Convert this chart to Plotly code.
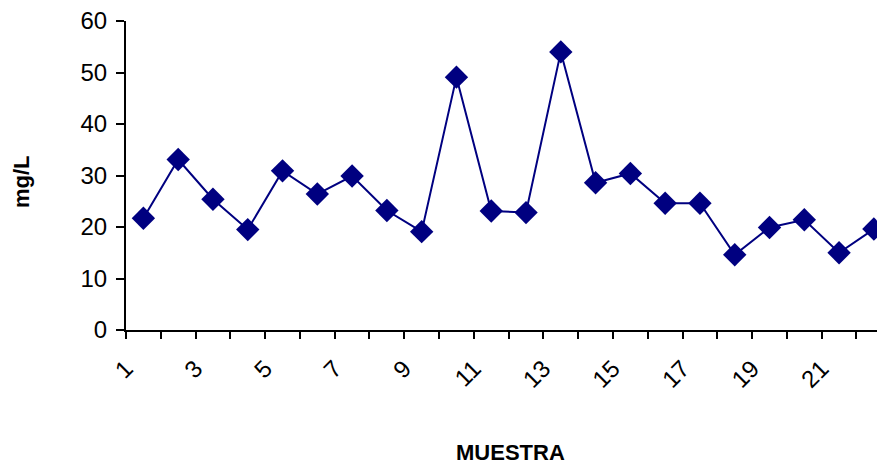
import plotly.graph_objects as go

muestra = list(range(1, 23))
mg_l = [21.7, 33.1, 25.4, 19.5, 30.9, 26.4, 29.9, 23.2, 19.1, 49.1, 23.1,
        22.8, 54.0, 28.6, 30.4, 24.6, 24.6, 14.6, 19.9, 21.4, 15.0, 19.6]
tick_labels = ["1", "3", "5", "7", "9", "11", "13", "15", "17", "19", "21"]

# category boundaries carry the tick marks; every other boundary gets a label
tick_pos = [m - 0.5 for m in muestra]
tick_text = []
for i, p in enumerate(tick_pos):
    tick_text.append(tick_labels[i // 2] if i % 2 == 0 else "")

fig = go.Figure()
fig.add_trace(go.Scatter(
    x=muestra, y=mg_l, mode="lines+markers",
    line=dict(color="#000080", width=2),
    marker=dict(symbol="diamond", size=18, color="#000080"),
    cliponaxis=False, showlegend=False,
))

fnt = "Liberation Sans, Arial, sans-serif"
# page body has an 8px margin, so the figure is 8px smaller than the window
fig.update_layout(
    width=877, height=458,
    margin=dict(l=118, r=0, t=13, b=136),
    paper_bgcolor="white", plot_bgcolor="white",
    font=dict(family=fnt, color="black", size=24),
    xaxis=dict(range=[0.5, 22.32], tickmode="array", tickvals=tick_pos,
               ticktext=tick_text, tickangle=-45, ticks="outside", ticklen=7,
               tickwidth=2, tickcolor="black", showline=True, linecolor="black",
               linewidth=2, showgrid=False, zeroline=False,
               tickfont=dict(size=24), ticklabelstandoff=6,
               ticklabeloverflow="allow"),
    yaxis=dict(range=[0, 60], dtick=10, ticks="outside", ticklen=8, tickwidth=2,
               tickcolor="black", showline=True, linecolor="black", linewidth=2,
               showgrid=False, zeroline=False, tickfont=dict(size=24),
               ticklabelstandoff=4, ticklabeloverflow="allow"),
    annotations=[
        dict(text="<b>mg/L</b>", xref="paper", yref="paper", x=-0.137, y=0.479,
             xanchor="center", yanchor="middle", textangle=-90, showarrow=False,
             font=dict(size=22, family=fnt)),
        dict(text="<b>MUESTRA</b>", xref="paper", yref="paper", x=0.507, y=-0.395,
             xanchor="center", yanchor="middle", showarrow=False,
             font=dict(size=22, family=fnt)),
    ],
)
fig.write_html("out.html")
